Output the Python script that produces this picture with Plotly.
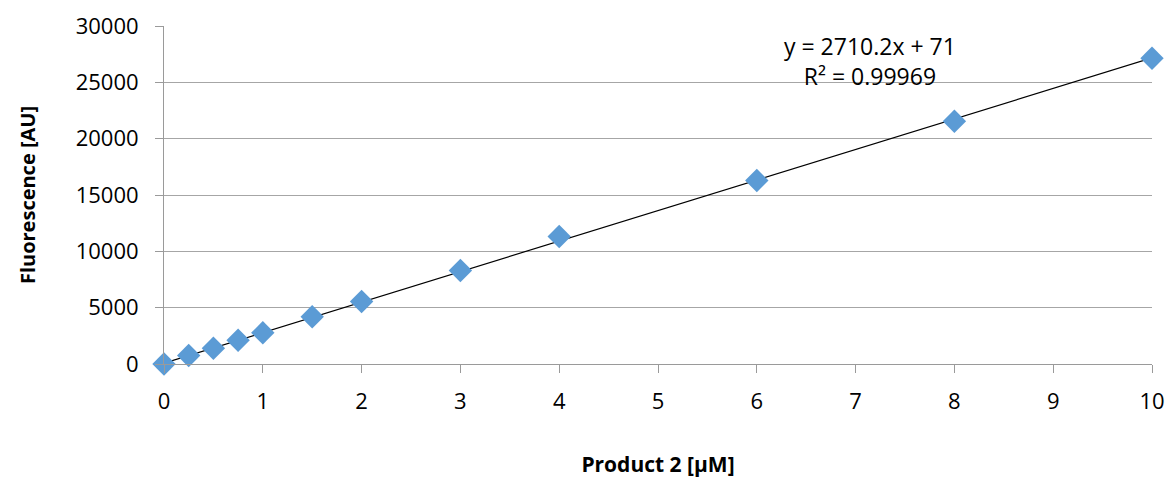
import plotly.graph_objects as go

# Calibration standards: concentration of product 2 vs measured fluorescence
concentration_um = [0, 0.25, 0.5, 0.75, 1, 1.5, 2, 3, 4, 6, 8, 10]
fluorescence_au = [0, 750, 1400, 2110, 2770, 4190, 5550, 8300, 11320, 16290, 21550, 27140]

# Linear fit reported on the chart
slope = 2710.2
intercept = 71
r_squared = 0.99969
fit_x = [0, 10]
fit_y = [slope * x + intercept for x in fit_x]

x_ticks = [0, 1, 2, 3, 4, 5, 6, 7, 8, 9, 10]
y_ticks = [0, 5000, 10000, 15000, 20000, 25000, 30000]
y_tick_labels = [str(v) for v in y_ticks]

font_family = "Open Sans, Liberation Sans, sans-serif"

fig = go.Figure()
fig.add_trace(go.Scatter(
    x=fit_x, y=fit_y, mode="lines",
    line=dict(color="black", width=1.2),
    hoverinfo="skip", showlegend=False, cliponaxis=False,
))
fig.add_trace(go.Scatter(
    x=concentration_um, y=fluorescence_au, mode="markers",
    marker=dict(symbol="diamond", size=18, color="#5B9BD5"),
    showlegend=False, cliponaxis=False,
))

fig.add_annotation(
    x=7.15, y=26900, xref="x", yref="y",
    text=f"y = {slope}x + {intercept}<br>R² = {r_squared}",
    showarrow=False, align="center",
    font=dict(family=font_family, size=23, color="black"),
)

fig.update_xaxes(
    range=[0, 10], tickvals=x_ticks, showgrid=False,
    showline=True, linecolor="#9a9a9a", linewidth=1,
    ticks="outside", ticklen=8, tickcolor="#9a9a9a",
    ticklabelstandoff=10,
    tickfont=dict(family=font_family, size=22, color="black"),
    title=dict(text="<b>Product 2 [µM]</b>", standoff=42,
               font=dict(family=font_family, size=21, color="black")),
    zeroline=False, automargin=False,
)
fig.update_yaxes(
    range=[0, 30000], tickvals=y_ticks, ticktext=y_tick_labels,
    showgrid=True, gridcolor="#a6a6a6", gridwidth=1,
    showline=True, linecolor="#9a9a9a", linewidth=1,
    ticks="outside", ticklen=8, tickcolor="#9a9a9a",
    ticklabelstandoff=12,
    tickfont=dict(family=font_family, size=22, color="black"),
    title=dict(text="<b>Fluorescence [AU]</b>", standoff=34,
               font=dict(family=font_family, size=20, color="black")),
    zeroline=False, automargin=False,
)

fig.update_layout(
    width=1170, height=482,
    margin=dict(l=164, r=18, t=26, b=118),
    plot_bgcolor="white", paper_bgcolor="white",
)

fig.write_html("out.html")
